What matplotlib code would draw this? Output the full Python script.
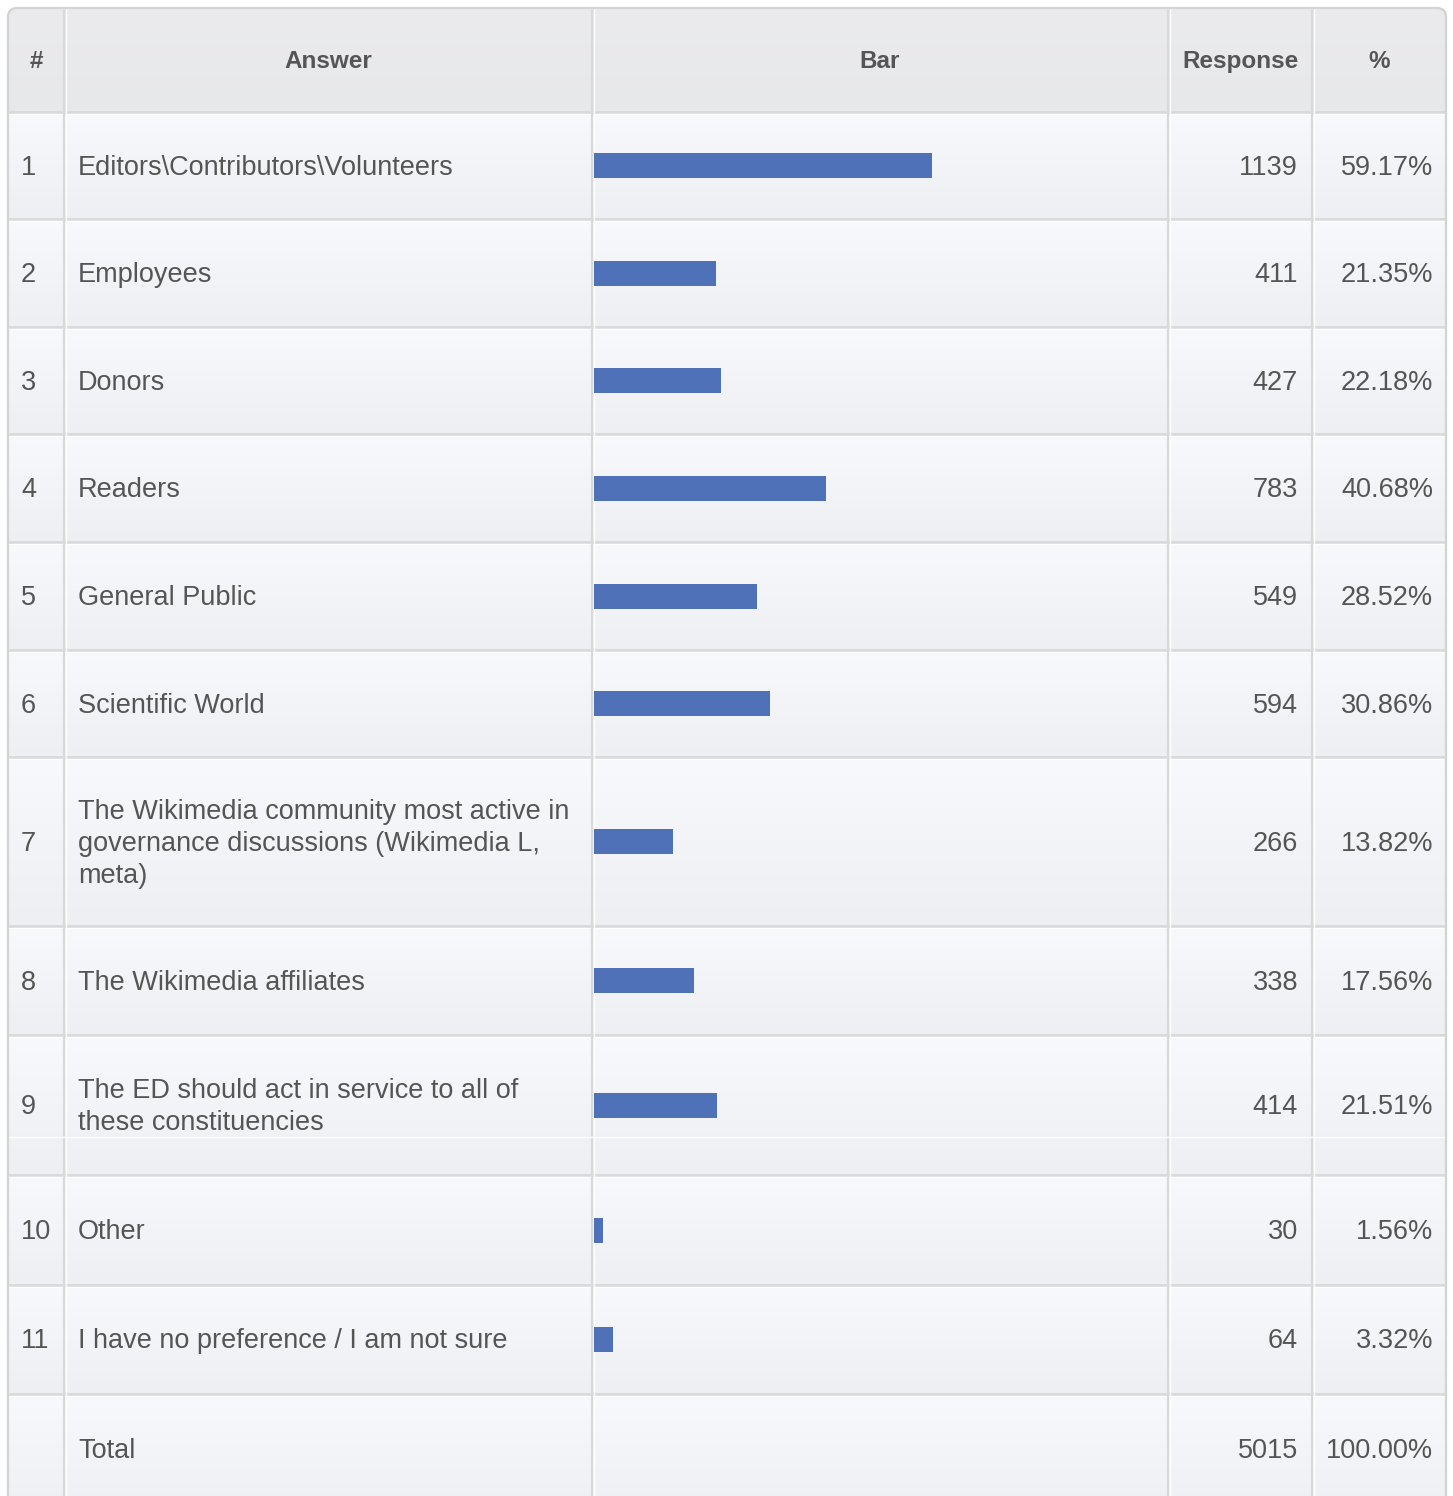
import matplotlib.pyplot as plt
import numpy as np
from matplotlib.patches import FancyBboxPatch
from matplotlib.colors import to_rgb

plt.rcParams['font.family'] = ['Liberation Sans', 'DejaVu Sans']

# -------------------------
# Data
# -------------------------
headers = ['#', 'Answer', 'Bar', 'Response', '%']
numbers = ['1', '2', '3', '4', '5', '6', '7', '8', '9', '10', '11']
answers = [
    'Editors\\Contributors\\Volunteers',
    'Employees',
    'Donors',
    'Readers',
    'General Public',
    'Scientific World',
    'The Wikimedia community most active in\ngovernance discussions (Wikimedia L,\nmeta)',
    'The Wikimedia affiliates',
    'The ED should act in service to all of\nthese constituencies',
    'Other',
    'I have no preference / I am not sure',
]
responses = [1139, 411, 427, 783, 549, 594, 266, 338, 414, 30, 64]
percents = [59.17, 21.35, 22.18, 40.68, 28.52, 30.86, 13.82, 17.56, 21.51, 1.56, 3.32]
total_label = 'Total'
total_response = 5015
total_percent = 100.00

# -------------------------
# Layout (pixel space)
# -------------------------
W, H = 1453, 1496
col_edges = [8, 64, 592, 1168, 1312, 1446]
row_edges = [8, 112, 219, 327, 434, 542, 650, 757, 926, 1035, 1175, 1285, 1394, 1520]
text_color = '#555555'
bar_color = '#4f71b7'
line_color = '#d8d9db'
fs = 19.5

fig = plt.figure(figsize=(W / 100, H / 100), dpi=100)
ax = fig.add_axes([0, 0, 1, 1])
ax.set_xlim(0, W)
ax.set_ylim(H, 0)
ax.axis('off')

frame = FancyBboxPatch((col_edges[0], row_edges[0]), col_edges[-1] - col_edges[0], 1600,
                       boxstyle='round,pad=0,rounding_size=9',
                       facecolor='none', edgecolor='#d2d3d5', lw=1.6, zorder=5)
ax.add_patch(frame)


def gradient(top, bottom, n=64):
    t = np.linspace(0, 1, n)[:, None]
    c = (1 - t) * np.array(to_rgb(top)) + t * np.array(to_rgb(bottom))
    return c[:, None, :]


# backgrounds
for i in range(len(row_edges) - 1):
    y0, y1 = row_edges[i], row_edges[i + 1]
    if i == 0:
        img = gradient('#ebebed', '#e7e8ea')
    else:
        img = gradient('#f8f9fc', '#eeeff3')
    im = ax.imshow(img, extent=(col_edges[0], col_edges[-1], y1, y0),
                   aspect='auto', zorder=0, interpolation='bilinear')
    im.set_clip_path(frame)

# grid lines
for y in row_edges[1:-1]:
    ax.plot([col_edges[0], col_edges[-1]], [y, y], color=line_color, lw=2.0, zorder=2,
            solid_capstyle='butt')
    ax.plot([col_edges[0], col_edges[-1]], [y + 2.2, y + 2.2], color='white', lw=1.0, zorder=2)
for x in col_edges[1:-1]:
    ax.plot([x, x], [row_edges[0], H + 20], color=line_color, lw=1.6, zorder=2)
    ax.plot([x + 2, x + 2], [row_edges[0], H + 20], color='white', lw=1.0, zorder=2)
# faint inner line in the two-line row
ax.plot([col_edges[0], col_edges[-1]], [1137, 1137], color='white', lw=1.0, zorder=2)

# header
header_y = (row_edges[0] + row_edges[1]) / 2 + 1
for k, h in enumerate(headers):
    ax.text((col_edges[k] + col_edges[k + 1]) / 2, header_y, h, ha='center', va='center',
            fontsize=17.5, fontweight='bold', color=text_color, zorder=4)

# rows
centers = [(row_edges[i] + row_edges[i + 1]) / 2 for i in range(1, len(numbers) + 1)]
bar_left = col_edges[2] + 2
bar_span = 571
ax.barh(centers, [p / 100 * bar_span for p in percents], left=bar_left, height=25,
        color=bar_color, zorder=3)

dy = 2
for yc, num, ans, r, p in zip(centers, numbers, answers, responses, percents):
    ax.text(21, yc + dy, num, ha='left', va='center', fontsize=fs, color=text_color, zorder=4)
    ax.text(78, yc + dy, ans, ha='left', va='center', fontsize=fs, color=text_color,
            linespacing=1.3, zorder=4)
    ax.text(1298, yc + dy, str(r), ha='right', va='center', fontsize=fs, color=text_color, zorder=4)
    ax.text(1433, yc + dy, f'{p:.2f}%', ha='right', va='center', fontsize=fs, color=text_color, zorder=4)

total_y = 1451
ax.text(78, total_y, total_label, ha='left', va='center', fontsize=fs, color=text_color, zorder=4)
ax.text(1298, total_y, str(total_response), ha='right', va='center', fontsize=fs, color=text_color, zorder=4)
ax.text(1433, total_y, f'{total_percent:.2f}%', ha='right', va='center', fontsize=fs, color=text_color, zorder=4)

fig.savefig('out.png', dpi=100, facecolor='white')
